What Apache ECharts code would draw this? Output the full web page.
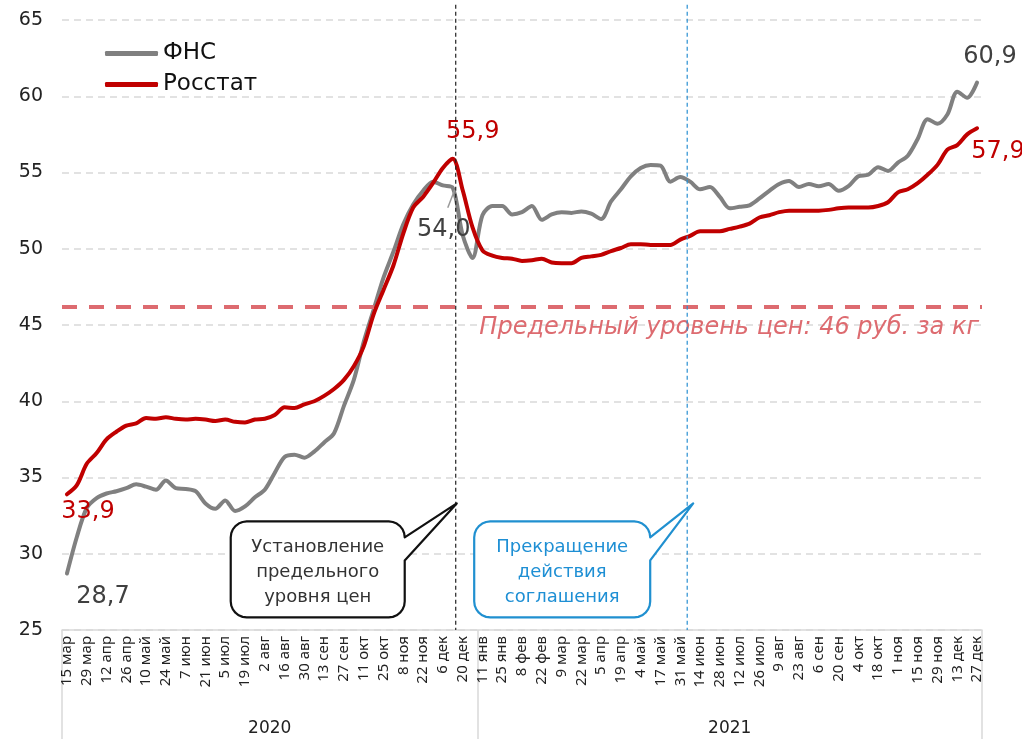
<!DOCTYPE html>
<html>
<head>
<meta charset="utf-8">
<script src="https://cdn.jsdelivr.net/npm/echarts@6/dist/echarts.min.js"></script>
<style>
  html, body { margin: 0; padding: 0; background: #fff; }
  #main { width: 1022px; height: 739px; }
</style>
</head>
<body>
<div id="main"></div>
<script>
// недели (метки оси X)
var dates2020 = ['15 мар','22 мар','29 мар','5 апр','12 апр','19 апр','26 апр','3 май','10 май','17 май',
  '24 май','31 май','7 июн','14 июн','21 июн','28 июн','5 июл','12 июл','19 июл','26 июл',
  '2 авг','9 авг','16 авг','23 авг','30 авг','6 сен','13 сен','20 сен','27 сен','4 окт',
  '11 окт','18 окт','25 окт','1 ноя','8 ноя','15 ноя','22 ноя','29 ноя','6 дек','13 дек',
  '20 дек','27 дек'];
var dates2021 = ['11 янв','18 янв','25 янв','1 фев','8 фев','15 фев','22 фев','1 мар','9 мар','15 мар',
  '22 мар','29 мар','5 апр','12 апр','19 апр','26 апр','4 май','11 май','17 май','24 май',
  '31 май','7 июн','14 июн','21 июн','28 июн','5 июл','12 июл','19 июл','26 июл','2 авг',
  '9 авг','16 авг','23 авг','30 авг','6 сен','13 сен','20 сен','27 сен','4 окт','11 окт',
  '18 окт','25 окт','1 ноя','8 ноя','15 ноя','22 ноя','29 ноя','6 дек','13 дек','20 дек',
  '27 дек'];
var years = ['2020', '2021'];

// цены, руб. за кг
var fns = [28.7, 31.1, 33.0, 33.65, 33.95, 34.1, 34.3, 34.55, 34.4, 34.2,
  34.8, 34.3, 34.25, 34.1, 33.3, 32.95, 33.5, 32.8, 33.1, 33.7,
  34.2, 35.3, 36.35, 36.5, 36.3, 36.7, 37.3, 37.9, 39.7, 41.4,
  43.9, 46.0, 48.1, 49.8, 51.6, 52.9, 53.8, 54.4, 54.15, 54.0,
  50.9, 49.4,
  52.2, 52.8, 52.8, 52.25, 52.4, 52.8, 51.9, 52.25, 52.4, 52.35,
  52.45, 52.3, 51.95, 53.1, 53.9, 54.75, 55.3, 55.5, 55.45, 54.4,
  54.7, 54.4, 53.9, 54.05, 53.4, 52.65, 52.75, 52.85, 53.3, 53.8,
  54.25, 54.45, 54.05, 54.25, 54.1, 54.25, 53.8, 54.1, 54.75, 54.85,
  55.35, 55.1, 55.65, 56.1, 57.2, 58.5, 58.2, 58.8, 60.3, 59.9,
  60.9];
var rosstat = [33.9, 34.5, 35.9, 36.6, 37.5, 38.0, 38.4, 38.55, 38.9, 38.85,
  38.95, 38.85, 38.8, 38.85, 38.8, 38.7, 38.8, 38.65, 38.6, 38.8,
  38.85, 39.1, 39.6, 39.55, 39.8, 40.0, 40.35, 40.8, 41.4, 42.3,
  43.6, 45.7, 47.3, 48.9, 51.0, 52.7, 53.4, 54.3, 55.3, 55.9,
  53.85, 51.4,
  49.9, 49.55, 49.4, 49.35, 49.2, 49.25, 49.35, 49.1, 49.05, 49.05,
  49.4, 49.5, 49.6, 49.85, 50.05, 50.3, 50.3, 50.25, 50.25, 50.25,
  50.6, 50.85, 51.15, 51.15, 51.15, 51.3, 51.45, 51.65, 52.05, 52.2,
  52.4, 52.5, 52.5, 52.5, 52.5, 52.55, 52.65, 52.7, 52.7, 52.7,
  52.8, 53.05, 53.7, 53.9, 54.3, 54.85, 55.5, 56.5, 56.8, 57.5,
  57.9];

var priceCap = 46.2;          // уровень линии "Предельный уровень цен"
var eventWeeks = [39.3, 62.7]; // положение событий на шкале недель
var eventTexts = ['Установление\nпредельного\nуровня цен', 'Прекращение\nдействия\nсоглашения'];

var weeks = dates2020.concat(dates2021);
var FONT = '"DejaVu Sans", sans-serif';
var TICK_FONT = '"Noto Sans", sans-serif';
var GRAY = '#808080', RED = '#c00000';

function fmt(p) { return p.value.toFixed(1).replace('.', ','); }

// подписи отдельных точек
function withLabels(values, marks) {
  return values.map(function (v, i) {
    var m = marks[i];
    return m ? { value: v, label: Object.assign({ show: true }, m) } : v;
  });
}
var last = weeks.length - 1;
var fnsMarks = {};
fnsMarks[0] = { position: 'bottom', offset: [36, 6] };
fnsMarks[39] = { position: 'bottom', offset: [-9, 25] };
fnsMarks[last] = { position: 'top', offset: [13, -9] };
var rosMarks = {};
rosMarks[0] = { position: 'bottom', offset: [21, 0] };
rosMarks[39] = { position: 'top', offset: [20, -10] };
rosMarks[last] = { position: 'bottom', offset: [21, 6] };

var chart = echarts.init(document.getElementById('main'));

chart.setOption({
  animation: false,
  backgroundColor: '#fff',
  textStyle: { fontFamily: FONT },
  grid: { left: 62, right: 40, top: 20, bottom: 109, containLabel: false },
  legend: {
    orient: 'vertical',
    left: 105,
    top: 42,
    padding: 0,
    itemGap: 8,
    icon: 'roundRect',
    itemWidth: 53,
    itemHeight: 5,
    textStyle: { fontSize: 23, color: '#111', fontFamily: FONT },
    data: ['ФНС', 'Росстат']
  },
  xAxis: [
    {
      type: 'category',
      data: weeks,
      boundaryGap: true,
      axisLine: { lineStyle: { color: '#d9d9d9', width: 1.5 } },
      axisTick: { show: false },
      axisLabel: { interval: 1, rotate: 90, fontSize: 15, color: '#222', margin: 6, fontFamily: TICK_FONT }
    },
    {
      // второй уровень оси: годы
      type: 'category',
      data: weeks,
      position: 'bottom',
      offset: 0,
      boundaryGap: true,
      axisLine: { show: false },
      axisLabel: { show: false },
      splitLine: { show: false },
      axisTick: {
        show: true,
        interval: function (i) { return i === 0 || i === dates2020.length; },
        length: 109,
        lineStyle: { color: '#d9d9d9', width: 1.5 }
      }
    },
    {
      // скрытая числовая шкала недель для аннотаций
      type: 'value',
      min: -0.5,
      max: weeks.length - 0.5,
      show: false
    }
  ],
  yAxis: {
    type: 'value',
    min: 25,
    max: 65,
    interval: 5,
    axisLine: { show: false },
    axisTick: { show: false },
    axisLabel: { fontSize: 19, color: '#222', margin: 19, fontFamily: FONT },
    splitLine: { lineStyle: { color: '#d9d9d9', type: [7, 5], width: 1.5 } }
  },
  series: [
    {
      name: 'ФНС',
      type: 'line',
      data: withLabels(fns, fnsMarks),
      smooth: 0.3,
      symbol: 'circle',
      symbolSize: 0,
      showSymbol: true,
      color: GRAY,
      lineStyle: { color: GRAY, width: 4, cap: 'round', join: 'round' },
      label: { show: false, formatter: fmt, fontSize: 24, color: '#404040', fontFamily: FONT },
      emphasis: { disabled: true },
      z: 3
    },
    {
      name: 'Росстат',
      type: 'line',
      data: withLabels(rosstat, rosMarks),
      smooth: 0.3,
      symbol: 'circle',
      symbolSize: 0,
      showSymbol: true,
      color: RED,
      lineStyle: { color: RED, width: 4, cap: 'round', join: 'round' },
      label: { show: false, formatter: fmt, fontSize: 24, color: RED, fontFamily: FONT },
      emphasis: { disabled: true },
      z: 4,
      markLine: {
        silent: true,
        symbol: 'none',
        lineStyle: { color: '#dd6b70', type: [15, 12], width: 4 },
        label: {
          position: 'insideEndBottom',
          formatter: 'Предельный уровень цен: 46 руб. за кг',
          fontStyle: 'italic',
          fontSize: 24,
          color: '#dd6b70',
          fontFamily: FONT,
          distance: [3, 9]
        },
        data: [{ yAxis: priceCap }]
      }
    }
  ]
});

// аннотации, привязанные к шкалам графика
function px(x, y) { return chart.convertToPixel({ xAxisIndex: 2, yAxisIndex: 0 }, [x, y]); }

var eventColors = ['#222', '#2a8fd2'];
var bubbleColors = ['#111', '#2090d0'];
var textColors = ['#333', '#1e8fd4'];
var callouts = [
  { tipDx: 1, left: -226, right: -52 },
  { tipDx: 6, left: -219, right: -43 }
];

function bubblePoints(x0, y0, x1, y1, r, ty1, ty2, tip) {
  var pts = [];
  function arc(cx, cy, a0) {
    for (var s = 0; s <= 6; s++) {
      var a = (a0 + s * 15) * Math.PI / 180;
      pts.push([cx + r * Math.cos(a), cy + r * Math.sin(a)]);
    }
  }
  arc(x0 + r, y0 + r, 180);
  arc(x1 - r, y0 + r, 270);
  pts.push([x1, ty1], tip, [x1, ty2]);
  arc(x1 - r, y1 - r, 0);
  arc(x0 + r, y1 - r, 90);
  return pts;
}

var g = [];
eventWeeks.forEach(function (w, k) {
  var top = px(w, 66), bot = px(w, 25);
  g.push({
    type: 'line', z: 10, silent: true,
    shape: { x1: top[0], y1: top[1], x2: bot[0], y2: bot[1] },
    style: { stroke: eventColors[k], lineWidth: 1.2, lineDash: [4, 3] }
  });
  var tip = px(w, 33.3);
  var c = callouts[k];
  var tx = tip[0] + c.tipDx, ty = tip[1];
  var x0 = tx + c.left, x1 = tx + c.right, y0 = ty + 18, y1 = ty + 114;
  g.push({
    type: 'polygon', z: 20, silent: true,
    shape: { points: bubblePoints(x0, y0, x1, y1, 16, ty + 34, ty + 57, [tx, ty]) },
    style: { fill: '#fff', stroke: bubbleColors[k], lineWidth: 2.2, lineJoin: 'round' }
  });
  g.push({
    type: 'text', z: 21, silent: true,
    x: (x0 + x1) / 2, y: (y0 + y1) / 2 + 3,
    style: {
      text: eventTexts[k], fill: textColors[k],
      fontSize: 18, fontFamily: FONT, lineHeight: 25,
      align: 'center', verticalAlign: 'middle'
    }
  });
});

// выноска для подписи 54,0
var p54 = px(39, fns[39]);
g.push({
  type: 'line', z: 10, silent: true,
  shape: { x1: p54[0] + 2, y1: p54[1] + 2, x2: p54[0] - 5, y2: p54[1] + 20 },
  style: { stroke: '#999', lineWidth: 1.5 }
});

// подписи годов
var yearRanges = [[0, dates2020.length - 1], [dates2020.length, weeks.length - 1]];
yearRanges.forEach(function (r, k) {
  var p = px((r[0] + r[1]) / 2, 25);
  g.push({
    type: 'text', silent: true,
    x: p[0], y: p[1] + 99,
    style: { text: years[k], fill: '#222', fontSize: 17, fontFamily: FONT, align: 'center', verticalAlign: 'middle' }
  });
});

chart.setOption({ graphic: g });
</script>
</body>
</html>
